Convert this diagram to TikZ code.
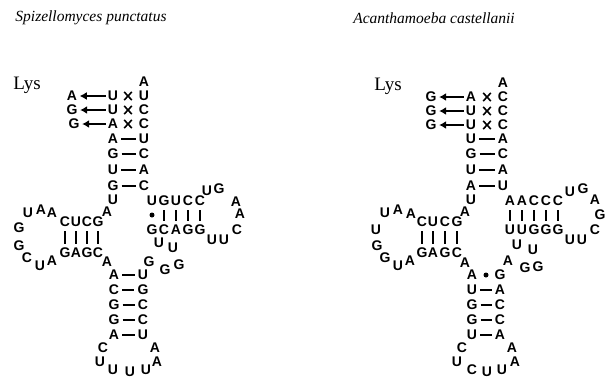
\documentclass[tikz,border=0pt]{standalone}
\usepackage{fontspec}
\setmainfont{Liberation Serif}
\newfontfamily\ntfont{Liberation Sans}
\usetikzlibrary{arrows.meta,shapes.misc}
\tikzset{
  nt/.style={font=\ntfont\bfseries\fontsize{14}{14}\selectfont, inner sep=0.5pt},
  mm/.style={cross out, draw, line width=1.6pt, minimum width=6pt, minimum height=6.5pt, inner sep=0pt},
  bp/.style={line width=1.7pt, shorten <=2.5pt, shorten >=2.5pt},
  vb/.style={line width=1.8pt, shorten <=3.5pt, shorten >=3.5pt},
  arr/.style={line width=1.6pt, -{Latex[length=7pt,width=8pt]}, shorten <=1.5pt, shorten >=2pt},
  gudot/.style={circle, fill, inner sep=0pt, minimum size=5pt},
  ttl/.style={font=\itshape\fontsize{15.5}{15.5}\selectfont, inner sep=0pt},
  lys/.style={font=\fontsize{19}{19}\selectfont, inner sep=0pt},
}
\begin{document}
\begin{tikzpicture}[x=1pt,y=-1pt]
\useasboundingbox (0,0) rectangle (610,381);
% titles
\node[ttl] (Ltitle) at (91,18) {Spizellomyces punctatus};
\node[ttl] (Rtitle) at (434,18) {Acanthamoeba castellanii};
% ================= LEFT =================
\node[lys] (Llys) at (27,85) {Lys};
\node[nt] (La0) at (144,82) {A};
\node[nt] (La1) at (113,96) {U};  \node[nt] (Lb1) at (144,96) {U};  \node[mm] (Lx1) at (128,96) {};  \node[nt] (Lo1) at (72,96) {A};
\node[nt] (La2) at (113,110) {U}; \node[nt] (Lb2) at (144,110) {C}; \node[mm] (Lx2) at (128,110) {}; \node[nt] (Lo2) at (72,110) {G};
\node[nt] (La3) at (113,124) {A}; \node[nt] (Lb3) at (144,124) {C}; \node[mm] (Lx3) at (128,124) {}; \node[nt] (Lo3) at (74,124) {G};
\node[nt] (La4) at (113,139) {A}; \node[nt] (Lb4) at (144,139) {U};
\node[nt] (La5) at (113,154) {G}; \node[nt] (Lb5) at (144,154) {C};
\node[nt] (La6) at (113,170) {U}; \node[nt] (Lb6) at (144,170) {A};
\node[nt] (La7) at (113,186) {G}; \node[nt] (Lb7) at (144,186) {C};
\draw[arr] (La1) -- (Lo1);
\draw[arr] (La2) -- (Lo2);
\draw[arr] (La3) -- (Lo3);
\foreach \i in {4,...,7} \draw[bp] (La\i) -- (Lb\i);
% junction
\node[nt] (Lj1) at (113,200) {U};
\node[nt] (Lj2) at (107,212) {A};
% D stem
\node[nt] (Ld1) at (65,222) {C}; \node[nt] (Ld2) at (76,222) {U}; \node[nt] (Ld3) at (87,222) {C}; \node[nt] (Ld4) at (98,222) {G};
\node[nt] (Le1) at (65,253) {G}; \node[nt] (Le2) at (76,253) {A}; \node[nt] (Le3) at (87,253) {G}; \node[nt] (Le4) at (98,253) {C};
\foreach \i in {1,...,4} \draw[vb] (Ld\i) -- (Le\i);
% D loop
\node[nt] (Ll1) at (52,213) {A};
\node[nt] (Ll2) at (41,210) {A};
\node[nt] (Ll3) at (28,213) {U};
\node[nt] (Ll4) at (19,228) {G};
\node[nt] (Ll5) at (19,246) {G};
\node[nt] (Ll6) at (27,258) {C};
\node[nt] (Ll7) at (40,266) {U};
\node[nt] (Ll8) at (52,261) {A};
\node[nt] (Lj3) at (107,262) {A};
% anticodon stem
\node[nt] (Lc1) at (114,275) {A}; \node[nt] (Lk1) at (143,275) {U};
\node[nt] (Lc2) at (114,290) {C}; \node[nt] (Lk2) at (143,290) {G};
\node[nt] (Lc3) at (114,305) {G}; \node[nt] (Lk3) at (143,305) {C};
\node[nt] (Lc4) at (114,320) {G}; \node[nt] (Lk4) at (143,320) {C};
\node[nt] (Lc5) at (114,335) {A}; \node[nt] (Lk5) at (143,335) {U};
\foreach \i in {1,...,5} \draw[bp] (Lc\i) -- (Lk\i);
% anticodon loop
\node[nt] (Lq1) at (103,348) {C};
\node[nt] (Lq2) at (100,362) {U};
\node[nt] (Lq3) at (113,370) {U};
\node[nt] (Lq4) at (130,372) {U};
\node[nt] (Lq5) at (146,370) {U};
\node[nt] (Lq6) at (157,361.5) {A};
\node[nt] (Lq7) at (155,348) {A};
% variable loop
\node[nt] (Lv1) at (149,262) {G};
\node[nt] (Lv2) at (165,270) {G};
\node[nt] (Lv3) at (179,265) {G};
\node[nt] (Lv4) at (173,248) {U};
\node[nt] (Lv5) at (159,243) {U};
% T stem
\node[nt] (Lt1) at (152,201) {U}; \node[nt] (Lt2) at (164,201) {G}; \node[nt] (Lt3) at (176,201) {U}; \node[nt] (Lt4) at (188,201) {C}; \node[nt] (Lt5) at (200,201) {C};
\node[nt] (Lu1) at (152,230) {G}; \node[nt] (Lu2) at (164,230) {C}; \node[nt] (Lu3) at (176,230) {A}; \node[nt] (Lu4) at (188,230) {G}; \node[nt] (Lu5) at (200,230) {G};
\node[gudot] (Ldot) at (152,215) {};
\foreach \i in {2,...,5} \draw[vb] (Lt\i) -- (Lu\i);
% T loop
\node[nt] (Lr1) at (207,191) {U};
\node[nt] (Lr2) at (219,189) {G};
\node[nt] (Lr3) at (236,202) {A};
\node[nt] (Lr4) at (240,214) {A};
\node[nt] (Lr5) at (237,230) {C};
\node[nt] (Lr6) at (224,240) {U};
\node[nt] (Lr7) at (212,240) {U};
% ================= RIGHT =================
\node[lys] (Rlys) at (388,86) {Lys};
\node[nt] (Ra0) at (503,83) {A};
\node[nt] (Ra1) at (471,97) {A};  \node[nt] (Rb1) at (503,97) {C};  \node[mm] (Rx1) at (487,97) {};  \node[nt] (Ro1) at (431,97) {G};
\node[nt] (Ra2) at (471,111) {U}; \node[nt] (Rb2) at (503,111) {C}; \node[mm] (Rx2) at (487,111) {}; \node[nt] (Ro2) at (431,111) {G};
\node[nt] (Ra3) at (471,125) {U}; \node[nt] (Rb3) at (503,125) {C}; \node[mm] (Rx3) at (487,125) {}; \node[nt] (Ro3) at (431,125) {G};
\node[nt] (Ra4) at (471,139) {U}; \node[nt] (Rb4) at (503,139) {A};
\node[nt] (Ra5) at (471,154) {G}; \node[nt] (Rb5) at (503,154) {C};
\node[nt] (Ra6) at (471,170) {U}; \node[nt] (Rb6) at (503,170) {A};
\node[nt] (Ra7) at (471,186) {A}; \node[nt] (Rb7) at (503,186) {U};
\draw[arr] (Ra1) -- (Ro1);
\draw[arr] (Ra2) -- (Ro2);
\draw[arr] (Ra3) -- (Ro3);
\foreach \i in {4,...,7} \draw[bp] (Ra\i) -- (Rb\i);
% junction
\node[nt] (Rj1) at (471,200) {U};
\node[nt] (Rj2) at (465,212) {A};
% D stem
\node[nt] (Rd1) at (422,222) {C}; \node[nt] (Rd2) at (433,222) {U}; \node[nt] (Rd3) at (445,222) {C}; \node[nt] (Rd4) at (457,222) {G};
\node[nt] (Re1) at (422,253) {G}; \node[nt] (Re2) at (433,253) {A}; \node[nt] (Re3) at (445,253) {G}; \node[nt] (Re4) at (457,253) {C};
\foreach \i in {1,...,4} \draw[vb] (Rd\i) -- (Re\i);
% D loop
\node[nt] (Rl1) at (411,214) {A};
\node[nt] (Rl2) at (398,210) {A};
\node[nt] (Rl3) at (385,213) {U};
\node[nt] (Rl4) at (376,230) {U};
\node[nt] (Rl5) at (377,246) {G};
\node[nt] (Rl6) at (385,258) {G};
\node[nt] (Rl7) at (398,266) {U};
\node[nt] (Rl8) at (410,261) {A};
\node[nt] (Rj3) at (465,263) {A};
% anticodon stem
\node[nt] (Rc1) at (472,275) {A}; \node[nt] (Rk1) at (500,275) {G};
\node[nt] (Rc2) at (472,290) {U}; \node[nt] (Rk2) at (500,290) {A};
\node[nt] (Rc3) at (472,305) {G}; \node[nt] (Rk3) at (500,305) {C};
\node[nt] (Rc4) at (472,320) {G}; \node[nt] (Rk4) at (500,320) {C};
\node[nt] (Rc5) at (472,335) {U}; \node[nt] (Rk5) at (500,335) {A};
\node[gudot] (Rdot) at (486,275) {};
\foreach \i in {2,...,5} \draw[bp] (Rc\i) -- (Rk\i);
% anticodon loop
\node[nt] (Rq1) at (462,348) {C};
\node[nt] (Rq2) at (457,362) {U};
\node[nt] (Rq3) at (472,370) {C};
\node[nt] (Rq4) at (487,372) {U};
\node[nt] (Rq5) at (502,370) {U};
\node[nt] (Rq6) at (515,361.5) {A};
\node[nt] (Rq7) at (512,348) {A};
% variable loop
\node[nt] (Rv1) at (508,261) {A};
\node[nt] (Rv2) at (525,268) {G};
\node[nt] (Rv3) at (538,267) {G};
\node[nt] (Rv4) at (533,250) {U};
\node[nt] (Rv5) at (517,245) {U};
% T stem
\node[nt] (Rt1) at (510,201) {A}; \node[nt] (Rt2) at (522,201) {A}; \node[nt] (Rt3) at (534,201) {C}; \node[nt] (Rt4) at (546,201) {C}; \node[nt] (Rt5) at (558,201) {C};
\node[nt] (Ru1) at (510,230) {U}; \node[nt] (Ru2) at (522,230) {U}; \node[nt] (Ru3) at (534,230) {G}; \node[nt] (Ru4) at (546,230) {G}; \node[nt] (Ru5) at (558,230) {G};
\foreach \i in {1,...,5} \draw[vb] (Rt\i) -- (Ru\i);
% T loop
\node[nt] (Rr1) at (570,192) {U};
\node[nt] (Rr2) at (583,189) {G};
\node[nt] (Rr3) at (595,200) {A};
\node[nt] (Rr4) at (600,215) {G};
\node[nt] (Rr5) at (595,230) {C};
\node[nt] (Rr6) at (582,240) {U};
\node[nt] (Rr7) at (570,240) {U};
\end{tikzpicture}
\end{document}
